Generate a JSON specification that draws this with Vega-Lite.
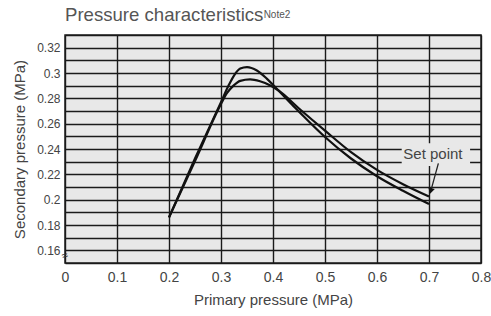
{
  "$schema": "https://vega.github.io/schema/vega-lite/v6.json",
  "width": 416,
  "height": 228,
  "autosize": {"type": "none"},
  "padding": {"left": 65, "top": 35, "right": 10, "bottom": 53},
  "background": "white",
  "config": {
    "view": {"fill": "#e8e8e8", "stroke": "#222222", "strokeWidth": 1.5},
    "font": "Liberation Sans"
  },
  "datasets": {
    "curves": [
      {"p": 0.2, "v": 0.186, "s": "A"},
      {"p": 0.25, "v": 0.2325, "s": "A"},
      {"p": 0.3, "v": 0.277, "s": "A"},
      {"p": 0.315, "v": 0.2905, "s": "A"},
      {"p": 0.325, "v": 0.298, "s": "A"},
      {"p": 0.337, "v": 0.3035, "s": "A"},
      {"p": 0.35, "v": 0.3047, "s": "A"},
      {"p": 0.369, "v": 0.302, "s": "A"},
      {"p": 0.388, "v": 0.2956, "s": "A"},
      {"p": 0.404, "v": 0.289, "s": "A"},
      {"p": 0.433, "v": 0.2765, "s": "A"},
      {"p": 0.45, "v": 0.2695, "s": "A"},
      {"p": 0.5, "v": 0.2495, "s": "A"},
      {"p": 0.55, "v": 0.2325, "s": "A"},
      {"p": 0.6, "v": 0.2185, "s": "A"},
      {"p": 0.65, "v": 0.207, "s": "A"},
      {"p": 0.7, "v": 0.1965, "s": "A"},
      {"p": 0.2, "v": 0.186, "s": "B"},
      {"p": 0.25, "v": 0.2305, "s": "B"},
      {"p": 0.3, "v": 0.2755, "s": "B"},
      {"p": 0.311, "v": 0.2838, "s": "B"},
      {"p": 0.324, "v": 0.29, "s": "B"},
      {"p": 0.337, "v": 0.2938, "s": "B"},
      {"p": 0.356, "v": 0.295, "s": "B"},
      {"p": 0.375, "v": 0.2935, "s": "B"},
      {"p": 0.394, "v": 0.2904, "s": "B"},
      {"p": 0.41, "v": 0.2864, "s": "B"},
      {"p": 0.45, "v": 0.272, "s": "B"},
      {"p": 0.5, "v": 0.2545, "s": "B"},
      {"p": 0.55, "v": 0.2375, "s": "B"},
      {"p": 0.6, "v": 0.2235, "s": "B"},
      {"p": 0.65, "v": 0.2122, "s": "B"},
      {"p": 0.7, "v": 0.2025, "s": "B"}
    ],
    "labelbox": [{"p": 0.6475, "p2": 0.779, "v": 0.2265, "v2": 0.2445}],
    "labels": [{"p": 0.6506, "v": 0.2358, "label": "Set point"}],
    "arrow": [{"p": 0.718, "v": 0.2287, "p2": 0.7035, "v2": 0.207}],
    "head": [{"p": 0.7035, "v": 0.2068}],
    "titletext": [{"p": 0.0, "v": 0.341, "label": "Pressure characteristics"}],
    "note": [{"p": 0.382, "v": 0.3432, "label": "Note2"}],
    "brk": [{"p": 0.0, "v": 0.1555, "label": "≈"}]
  },
  "layer": [
    {
      "data": {"name": "curves"},
      "mark": {"type": "line", "color": "#111111", "strokeWidth": 2.2, "interpolate": "monotone"},
      "encoding": {
        "x": {
          "field": "p", "type": "quantitative",
          "scale": {"domain": [0, 0.8], "nice": false, "zero": false},
          "axis": {
            "title": "Primary pressure (MPa)",
            "values": [0, 0.1, 0.2, 0.3, 0.4, 0.5, 0.6, 0.7, 0.8],
            "tickCount": 20,
            "format": ".1~f",
            "labelFlush": false,
            "domain": false,
            "ticks": false,
            "tickSize": 0,
            "labelPadding": 7,
            "labelFontSize": 14,
            "labelColor": "#444444",
            "labelFont": "Liberation Sans",
            "titleFont": "Liberation Sans",
            "titleFontSize": 15,
            "titleFontWeight": "normal",
            "titleColor": "#444444",
            "titlePadding": 8,
            "grid": true,
            "gridColor": "#1a1a1a",
            "gridWidth": 1.4,
            "gridOpacity": 1
          }
        },
        "y": {
          "field": "v", "type": "quantitative",
          "scale": {"domain": [0.15, 0.33], "nice": false, "zero": false},
          "axis": {
            "title": "Secondary pressure (MPa)",
            "values": [0.15, 0.16, 0.17, 0.18, 0.19, 0.2, 0.21, 0.22, 0.23, 0.24, 0.25, 0.26, 0.27, 0.28, 0.29, 0.3, 0.31, 0.32, 0.33],
            "tickCount": 40,
            "labelOverlap": false,
            "labelExpr": "(round(datum.value*100) % 2 == 0 && datum.value > 0.155 && datum.value < 0.325) ? format(datum.value, '.2~f') : ''",
            "domain": false,
            "ticks": false,
            "tickSize": 0,
            "labelPadding": 5,
            "labelFontSize": 12,
            "labelColor": "#444444",
            "labelFont": "Liberation Sans",
            "titleFont": "Liberation Sans",
            "titleFontSize": 15,
            "titleFontWeight": "normal",
            "titleColor": "#444444",
            "titlePadding": 9,
            "grid": true,
            "gridColor": "#1a1a1a",
            "gridWidth": 1.4,
            "gridOpacity": 1
          }
        },
        "detail": {"field": "s", "type": "nominal"}
      }
    },
    {
      "data": {"name": "labelbox"},
      "mark": {"type": "rect", "fill": "#e8e8e8"},
      "encoding": {
        "x": {"field": "p", "type": "quantitative"},
        "x2": {"field": "p2"},
        "y": {"field": "v", "type": "quantitative"},
        "y2": {"field": "v2"}
      }
    },
    {
      "data": {"name": "labels"},
      "mark": {"type": "text", "align": "left", "baseline": "middle", "fontSize": 15, "color": "#444444", "font": "Liberation Sans"},
      "encoding": {
        "x": {"field": "p", "type": "quantitative"},
        "y": {"field": "v", "type": "quantitative"},
        "text": {"field": "label"}
      }
    },
    {
      "data": {"name": "arrow"},
      "mark": {"type": "rule", "color": "#222222", "strokeWidth": 1.3},
      "encoding": {
        "x": {"field": "p", "type": "quantitative"},
        "y": {"field": "v", "type": "quantitative"},
        "x2": {"field": "p2"},
        "y2": {"field": "v2"}
      }
    },
    {
      "data": {"name": "head"},
      "mark": {"type": "point", "shape": "triangle-down", "filled": true, "color": "#111111", "size": 45, "angle": 15, "opacity": 1},
      "encoding": {
        "x": {"field": "p", "type": "quantitative"},
        "y": {"field": "v", "type": "quantitative"}
      }
    },
    {
      "data": {"name": "titletext"},
      "mark": {"type": "text", "align": "left", "baseline": "alphabetic", "fontSize": 18.6, "color": "#555555", "font": "Liberation Sans"},
      "encoding": {
        "x": {"field": "p", "type": "quantitative"},
        "y": {"field": "v", "type": "quantitative"},
        "text": {"field": "label"}
      }
    },
    {
      "data": {"name": "note"},
      "mark": {"type": "text", "align": "left", "baseline": "alphabetic", "fontSize": 10, "color": "#555555", "font": "Liberation Sans"},
      "encoding": {
        "x": {"field": "p", "type": "quantitative"},
        "y": {"field": "v", "type": "quantitative"},
        "text": {"field": "label"}
      }
    },
    {
      "data": {"name": "brk"},
      "mark": {"type": "text", "align": "center", "baseline": "middle", "fontSize": 11, "color": "#333333", "angle": -20},
      "encoding": {
        "x": {"field": "p", "type": "quantitative"},
        "y": {"field": "v", "type": "quantitative"},
        "text": {"field": "label"}
      }
    }
  ]
}
